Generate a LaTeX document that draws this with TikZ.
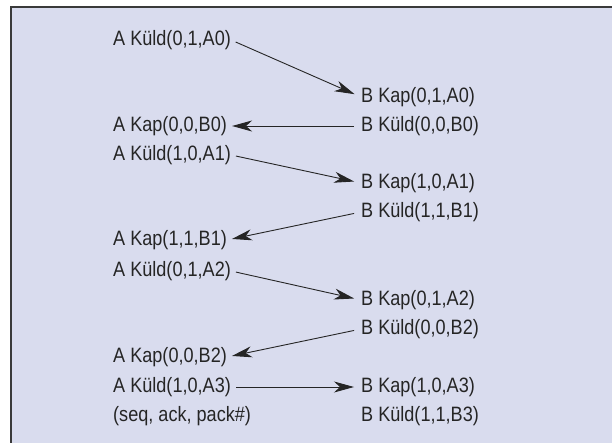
\documentclass[tikz,border=0pt]{standalone}
\usepackage{fontspec}
\setmainfont[FakeStretch=0.87]{Liberation Sans}
\usetikzlibrary{arrows.meta}
\definecolor{panel}{HTML}{D9DCEE}
\definecolor{ink}{HTML}{252525}
\definecolor{frame}{HTML}{3A3A3A}
\begin{document}
\begin{tikzpicture}[x=1pt,y=-1pt,
  lbl/.style={inner sep=0pt,anchor=west,text=ink,font=\fontsize{20.8}{22}\selectfont},
  msg/.style={draw=ink,line width=0.9pt,-{Stealth[length=20pt,width=11pt,inset=6pt]},shorten <=5pt,shorten >=7pt},
  msgl/.style={draw=ink,line width=0.9pt,-{Stealth[length=20pt,width=11pt,inset=6pt]},shorten <=7pt,shorten >=5pt}]
\useasboundingbox (0,0) rectangle (612,443);
\fill[panel] (11,7) rectangle (613,444);
\draw[frame,line width=1.8pt] (11,444) -- (11,7) -- (613,7);
% left column
\node[lbl] (a0s) at (113,40) {A Küld(0,1,A0)};
\node[lbl] (a0r) at (113,126) {A Kap(0,0,B0)};
\node[lbl] (a1s) at (113,155) {A Küld(1,0,A1)};
\node[lbl] (a1r) at (113,240) {A Kap(1,1,B1)};
\node[lbl] (a2s) at (113,271) {A Küld(0,1,A2)};
\node[lbl] (a2r) at (113,357) {A Kap(0,0,B2)};
\node[lbl] (a3s) at (113,387) {A Küld(1,0,A3)};
\node[lbl] (leg) at (113,416) {(seq, ack, pack\#)};
% right column
\node[lbl] (b0r) at (361,97) {B Kap(0,1,A0)};
\node[lbl] (b0s) at (361,126) {B Küld(0,0,B0)};
\node[lbl] (b1r) at (361,183) {B Kap(1,0,A1)};
\node[lbl] (b1s) at (361,212) {B Küld(1,1,B1)};
\node[lbl] (b2r) at (361,300) {B Kap(0,1,A2)};
\node[lbl] (b2s) at (361,329) {B Küld(0,0,B2)};
\node[lbl] (b3r) at (361,387) {B Kap(1,0,A3)};
\node[lbl] (b3s) at (361,416) {B Küld(1,1,B3)};
% messages
\draw[msg] (a0s.east) -- (b0r.west);
\draw[msgl] (b0s.west) -- (a0r.east);
\draw[msg] (a1s.east) -- (b1r.west);
\draw[msgl] (b1s.west) -- (a1r.east);
\draw[msg] (a2s.east) -- (b2r.west);
\draw[msgl] (b2s.west) -- (a2r.east);
\draw[msg] (a3s.east) -- (b3r.west);
\end{tikzpicture}
\end{document}
